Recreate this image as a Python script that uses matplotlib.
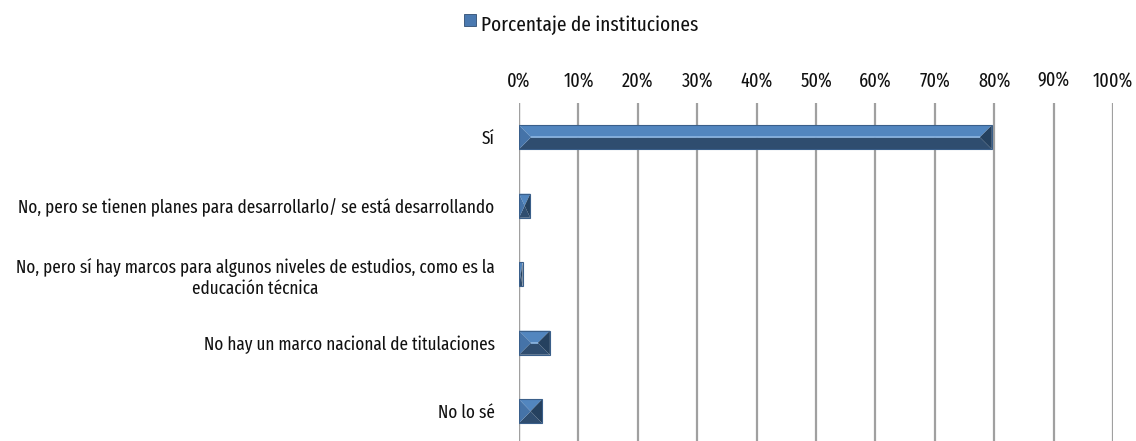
import matplotlib
matplotlib.use("Agg")
import matplotlib.pyplot as plt
from matplotlib.patches import Polygon, Rectangle
from matplotlib import font_manager

categories = [
    "Sí",
    "No, pero se tienen planes para desarrollarlo/ se está desarrollando",
    "No, pero sí hay marcos para algunos niveles de estudios, como es la\neducación técnica",
    "No hay un marco nacional de titulaciones",
    "No lo sé",
]
values = [79.6, 1.9, 0.6, 5.2, 3.9]
series_name = "Porcentaje de instituciones"
xticks = [0, 10, 20, 30, 40, 50, 60, 70, 80, 90, 100]
xticklabels = [f"{t}%" for t in xticks]

names = {f.name for f in font_manager.fontManager.ttflist}
fam = "DejaVu Sans"
for cand in ["Fira Sans Extra Condensed", "Fira Sans Condensed", "Roboto Condensed", "PT Sans Narrow",
             "Archivo Narrow", "Open Sans Condensed", "Barlow Semi Condensed", "Pragati Narrow"]:
    if cand in names:
        fam = cand
        break
plt.rcParams["font.family"] = [fam, "DejaVu Sans"]

W, H = 1136, 441
fig = plt.figure(figsize=(W/100, H/100), dpi=100)

r = fig.canvas.get_renderer()
def fit_size(s, target):
    t = fig.text(0, 0, s, fontsize=10)
    w = t.get_window_extent(r).width
    t.remove()
    return 10 * target / w

fs = fit_size(categories[1], 477)
fs_leg = fit_size(series_name, 216)
fs_tick = fit_size("100%", 40)

ax = fig.add_axes([519/W, -4.5/H, (1113-519)/W, (H+4.5-103)/H])

c_top = "#5286bf"
c_bot = "#2f4d6f"
c_left = "#4573a8"
c_right = "#25415f"
c_edge = "#3a5f8a"
n = len(categories)
ypos = list(range(n))
h = 0.35
ax.set_xlim(0, 100)
ax.set_ylim(n - 0.5, -0.5)
px_x = ax.get_position().width * W / 100.0
px_y = ax.get_position().height * H / n
for y, v in zip(ypos, values):
    yt, yb, ym = y - h/2, y + h/2, y
    b = min((h/2) * px_y / px_x, v/2)
    ax.add_patch(Polygon([(0, yt), (v, yt), (v - b, ym), (b, ym)], closed=True,
                         facecolor=c_top, edgecolor="none", zorder=3))
    ax.add_patch(Polygon([(0, yb), (v, yb), (v - b, ym), (b, ym)], closed=True,
                         facecolor=c_bot, edgecolor="none", zorder=3))
    ax.add_patch(Polygon([(0, yt), (b, ym), (0, yb)], closed=True,
                         facecolor=c_left, edgecolor="none", zorder=4))
    ax.add_patch(Polygon([(v, yt), (v - b, ym), (v, yb)], closed=True,
                         facecolor=c_right, edgecolor="none", zorder=4))
    if v - 2*b > 0:
        ax.plot([b, v - b], [ym, ym], color="#8cb6e2", lw=1.2, zorder=5, solid_capstyle="butt")
    ax.add_patch(Rectangle((0, yt), v, h, facecolor="none", edgecolor=c_edge, lw=0.8, zorder=6))

ax.set_yticks(ypos)
ax.set_yticklabels(categories, fontsize=fs, multialignment="center", color="#111111")
ax.set_xticks(xticks)
ax.set_xticklabels(xticklabels, fontsize=fs_tick, color="#111111")
ax.xaxis.tick_top()
ax.tick_params(axis="x", length=0, pad=9)
ax.tick_params(axis="y", length=0, pad=17.5)
ax.grid(axis="x", color="#a0a0a0", lw=1.6, zorder=0)
ax.set_axisbelow(True)
for s in ax.spines.values():
    s.set_visible(False)
ax.axvline(0, color="#a0a0a0", lw=1.6, zorder=1)

# legend
fig.patches.append(Rectangle((464/W, 1 - 26/H), 12/W, 12/H, transform=fig.transFigure,
                             facecolor="#4a79b0", edgecolor="#2f4e72", lw=0.6))
fig.text(481/W, 1 - 25.5/H, series_name, fontsize=fs_leg, va="center", ha="left", color="#111111")

fig.savefig("out.png", dpi=100)
